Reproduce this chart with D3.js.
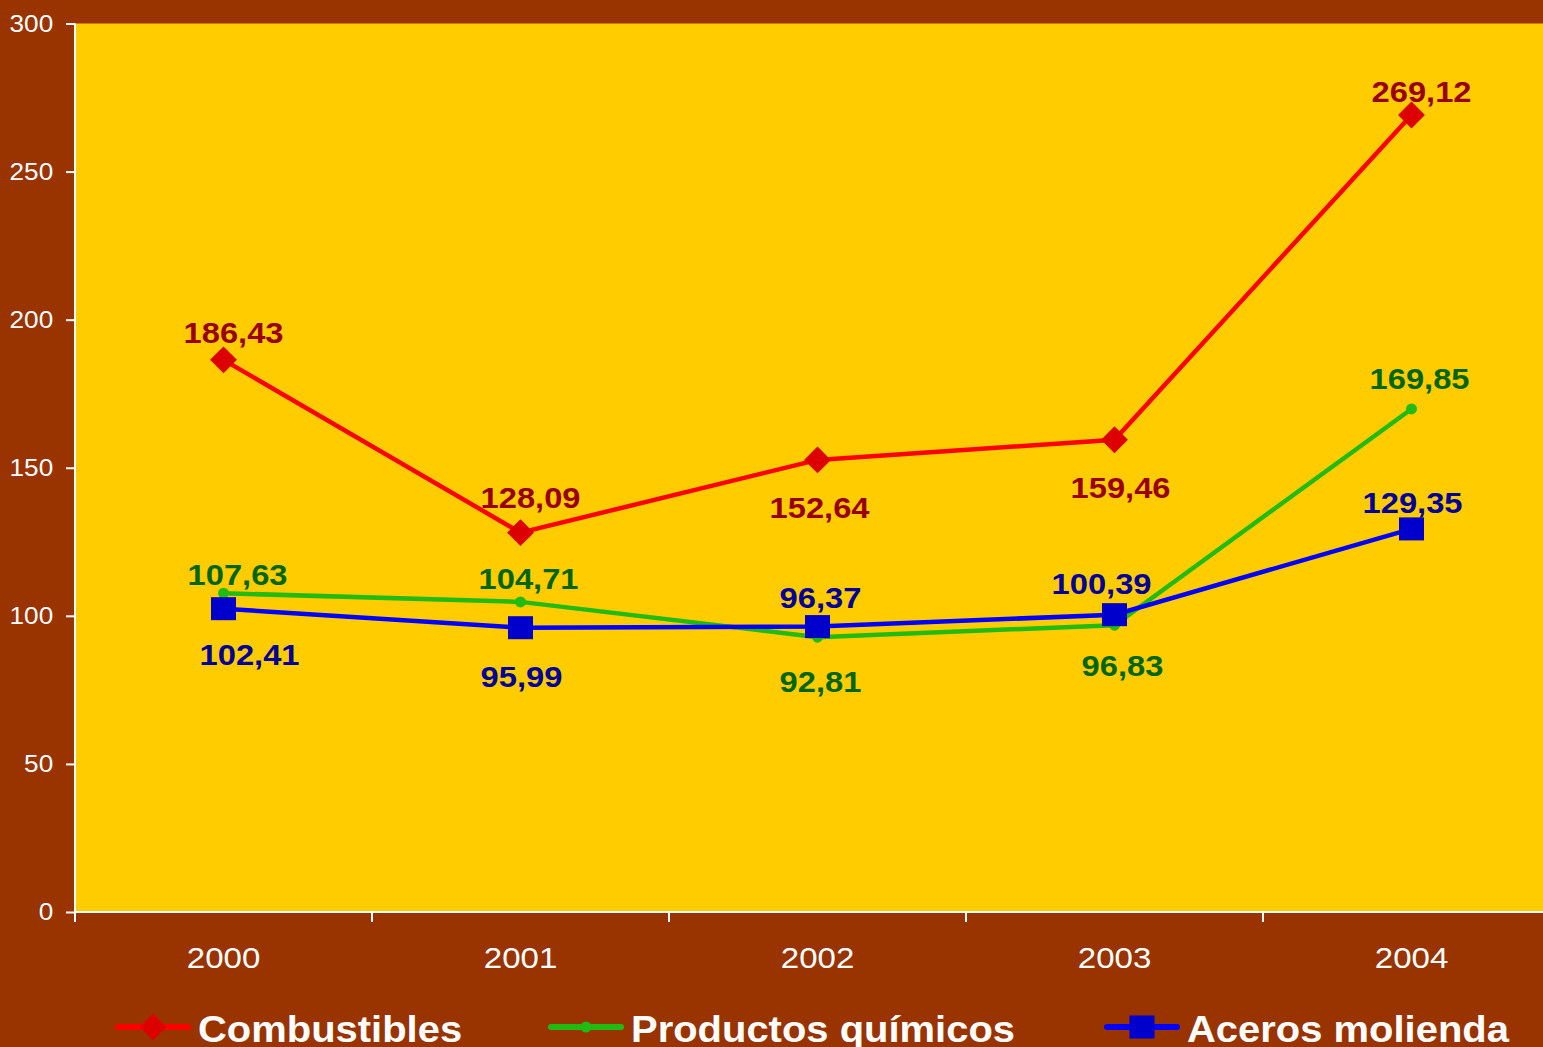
<!DOCTYPE html>
<html>
<head>
<meta charset="utf-8">
<script src="https://cdn.jsdelivr.net/npm/d3@7"></script>
<style>
  body { margin: 0; background: #993300; }
  svg { display: block; font-family: "Liberation Sans", Arial, sans-serif; }
</style>
</head>
<body>
<div id="chart"></div>
<script>
var years = ["2000", "2001", "2002", "2003", "2004"];
var combustibles = [186.43, 128.09, 152.64, 159.46, 269.12];
var quimicos = [107.63, 104.71, 92.81, 96.83, 169.85];
var aceros = [102.41, 95.99, 96.37, 100.39, 129.35];
var yTicks = [0, 50, 100, 150, 200, 250, 300];

// label placement per point: [dx, dy] from the marker
var series = [
  { name: "Combustibles", values: combustibles, line: "#ff0000", mark: "#dd0000", text: "#990000", shape: "diamond",
    labels: [[10, -17], [10, -25], [2, 58], [6, 58], [10, -13]] },
  { name: "Productos químicos", values: quimicos, line: "#22bb11", mark: "#22bb11", text: "#006600", shape: "circle",
    labels: [[14, -8], [8, -13], [3, 55], [8, 51], [8, -20]] },
  { name: "Aceros molienda", values: aceros, line: "#0000ff", mark: "#0000cc", text: "#000099", shape: "square",
    labels: [[26, 56], [1, 59], [3, -19], [-13, -21], [1, -16]] }
];

var width = 1543, height = 1047;
var margin = { left: 75, top: 23.5, bottom: 912 };
var stretch = 1.09; // the original text looks a little wider than Arial

var svg = d3.select("#chart").append("svg")
  .attr("width", width)
  .attr("height", height);

svg.append("rect")
  .attr("width", width).attr("height", height)
  .attr("fill", "#993300");

var x = d3.scaleBand()
  .domain(years)
  .range([margin.left, margin.left + 5 * 297]);

var y = d3.scaleLinear()
  .domain([0, 300])
  .range([margin.bottom, margin.top]);

svg.append("rect")
  .attr("x", margin.left)
  .attr("y", y(300))
  .attr("width", width - margin.left)
  .attr("height", y(0) - y(300))
  .attr("fill", "#ffcc00");

// y axis
var yAxis = svg.append("g")
  .attr("transform", "translate(" + margin.left + ",0)")
  .call(d3.axisLeft(y).tickValues(yTicks).tickSize(9).tickPadding(11));
yAxis.select(".domain").attr("stroke", "#fff").attr("stroke-width", 2).attr("d", "M0," + y(300) + "V" + y(0));
yAxis.selectAll(".tick line").attr("stroke", "#fff").attr("stroke-width", 2);
yAxis.selectAll(".tick text").attr("fill", "#fff").style("font-size", "24px")
  .attr("transform", "scale(" + stretch + ",1)");

// x axis
var xAxis = svg.append("g")
  .attr("transform", "translate(0," + y(0) + ")")
  .call(d3.axisBottom(x).tickSize(0).tickPadding(35));
xAxis.select(".domain").attr("stroke", "#fff").attr("stroke-width", 2).attr("d", "M" + margin.left + ",0H" + width);
xAxis.selectAll(".tick text").attr("fill", "#fff").style("font-size", "29px")
  .attr("transform", "scale(1.14,1)");
xAxis.selectAll(".edge")
  .data(years)
  .enter().append("line")
  .attr("x1", d => x(d)).attr("x2", d => x(d))
  .attr("y1", 0).attr("y2", 10)
  .attr("stroke", "#fff").attr("stroke-width", 2);

var cx = d => x(d) + x.bandwidth() / 2;

function drawMark(g, shape, color, px, py) {
  if (shape === "diamond") {
    g.append("rect").attr("x", px - 9.5).attr("y", py - 9.5).attr("width", 19).attr("height", 19)
      .attr("transform", "rotate(45," + px + "," + py + ")").attr("fill", color);
  } else if (shape === "square") {
    g.append("rect").attr("x", px - 12.5).attr("y", py - 11.5).attr("width", 25).attr("height", 23).attr("fill", color);
  } else {
    g.append("circle").attr("cx", px).attr("cy", py).attr("r", 5.5).attr("fill", color);
  }
}

var line = d3.line()
  .x((d, i) => cx(years[i]))
  .y(d => y(d));

series.forEach(function(s) {
  var g = svg.append("g");
  g.append("path")
    .datum(s.values)
    .attr("d", line)
    .attr("fill", "none")
    .attr("stroke", s.line)
    .attr("stroke-width", 4.5);
  s.values.forEach(function(v, i) {
    drawMark(g, s.shape, s.mark, cx(years[i]), y(v));
  });
});

// data labels on top
series.forEach(function(s) {
  svg.append("g").selectAll("text")
    .data(s.values)
    .enter().append("text")
    .attr("transform", (d, i) => "translate(" + (cx(years[i]) + s.labels[i][0]) + "," + (y(d) + s.labels[i][1]) + ") scale(" + stretch + ",1)")
    .attr("text-anchor", "middle")
    .attr("fill", s.text)
    .style("font-size", "30px")
    .style("font-weight", "bold")
    .text(d => d3.format(".2f")(d).replace(".", ","));
});

// legend
var legendX = [118, 551, 1107];
var legend = svg.append("g");
series.forEach(function(s, i) {
  var lx = legendX[i], ly = 1027;
  legend.append("line")
    .attr("x1", lx).attr("x2", lx + 70)
    .attr("y1", ly).attr("y2", ly)
    .attr("stroke", s.line).attr("stroke-width", 6).attr("stroke-linecap", "round");
  drawMark(legend, s.shape, s.mark, lx + 35, ly);
  legend.append("text")
    .attr("transform", "translate(" + (lx + 80) + "," + (ly + 15) + ") scale(1.08,1)")
    .attr("fill", "#fff")
    .style("font-size", "37px")
    .style("font-weight", "bold")
    .text(s.name);
});
</script>
</body>
</html>
